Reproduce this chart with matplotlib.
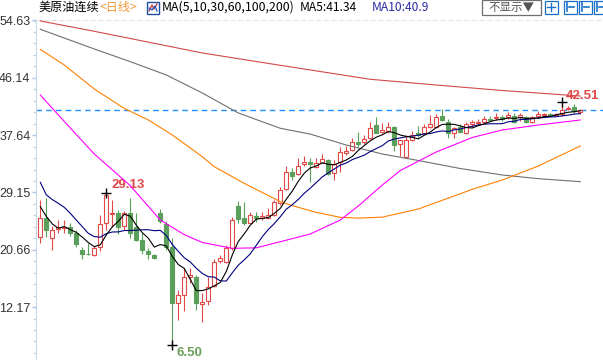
import numpy as np
import pandas as pd
import matplotlib
matplotlib.use('Agg')
import matplotlib.pyplot as plt
from matplotlib.patches import Rectangle
from matplotlib.ticker import AutoMinorLocator

# ---------------- data ----------------
opens = [22.6, 25.3, 22.4, 23.7, 23.9, 24.0, 23.1, 20.6, 20.1, 19.9,
         21.0, 24.7, 26.0, 26.15, 24.2, 26.15, 24.1, 22.1, 20.5, 19.9,
         26.06, 24.48, 21.12, 12.82, 13.96, 16.58, 16.67, 12.7, 13.12, 15.3,
         19.0, 18.9, 20.97, 27.15, 25.3, 24.7, 25.7, 25.4, 25.4, 25.8,
         27.55, 29.67, 32.14, 31.84, 33.37, 33.7, 32.97, 33.56, 33.96, 32.0,
         33.7, 35.0, 35.45, 36.67, 36.67, 37.2, 39.15, 38.15, 38.3, 38.9,
         36.33, 34.45, 36.93, 37.9, 37.9, 38.9, 38.9, 40.5, 39.64, 37.9,
         38.9, 37.9, 39.25, 39.4, 39.64, 40.03, 40.13, 40.3, 40.4, 40.55,
         40.3, 40.3, 39.6, 40.43, 40.6, 40.77, 40.6, 40.77, 41.5, 41.75,
         41.1]
closes = [25.3, 23.6, 23.6, 24.0, 24.0, 23.1, 21.5, 20.1, 20.0, 20.9,
          24.5, 28.8, 26.1, 24.1, 26.1, 23.1, 22.1, 20.6, 20.0, 19.5,
          24.97, 21.12, 12.82, 13.96, 16.58, 16.93, 12.73, 12.9, 15.2, 18.9,
          19.4, 20.9, 25.07, 25.2, 24.6, 25.8, 25.3, 25.7, 25.8, 27.7,
          29.5, 32.14, 31.64, 33.1, 33.7, 33.37, 33.56, 34.06, 31.9, 33.37,
          35.2, 35.3, 36.67, 36.4, 37.03, 38.66, 38.0, 38.4, 38.8, 36.2,
          36.9, 37.0, 37.67, 37.7, 38.9, 39.25, 40.4, 39.9, 37.9, 38.75,
          38.07, 39.25, 39.55, 39.64, 40.03, 39.83, 40.38, 40.1, 40.63, 39.6,
          40.6, 39.6, 40.3, 40.77, 40.77, 40.67, 40.77, 41.3, 41.7, 41.15,
          41.34]
highs = [28.1, 28.4, 24.2, 25.1, 25.1, 24.7, 23.6, 21.1, 21.6, 21.2,
         25.8, 29.13, 28.1, 26.6, 26.4, 28.3, 26.1, 23.1, 20.9, 20.05,
         26.66, 24.97, 22.36, 14.7, 17.92, 17.92, 16.93, 14.2, 16.67, 19.25,
         19.9, 21.4, 25.57, 27.9, 27.7, 26.2, 26.3, 26.2, 26.8, 28.0,
         30.0, 33.1, 32.8, 34.3, 34.6, 34.2, 34.2, 34.8, 34.06, 33.96,
         35.9, 36.0, 37.2, 38.15, 37.67, 39.64, 40.4, 39.4, 39.6, 39.0,
         37.0, 37.67, 38.3, 39.0, 39.25, 40.63, 40.73, 41.5, 40.03, 38.9,
         39.25, 39.64, 39.9, 40.03, 40.53, 40.53, 40.88, 40.7, 41.1, 40.9,
         40.9, 40.43, 40.43, 41.17, 41.0, 41.0, 41.0, 42.51, 41.9, 42.2,
         41.5]
lows = [21.7, 22.5, 20.7, 23.1, 23.2, 22.7, 21.1, 19.25, 19.9, 19.7,
        20.5, 23.6, 24.0, 23.0, 23.6, 22.4, 22.0, 20.0, 19.25, 19.25,
        24.6, 20.7, 6.50, 10.26, 11.64, 15.7, 11.74, 10.0, 12.48, 15.2,
        18.66, 18.75, 20.63, 24.6, 24.4, 24.7, 24.8, 25.0, 25.2, 25.7,
        27.3, 29.5, 31.0, 31.7, 33.1, 30.75, 32.8, 33.47, 31.74, 31.0,
        32.2, 34.7, 35.35, 35.9, 36.4, 37.03, 37.9, 37.9, 37.9, 35.35,
        34.6, 34.36, 36.8, 37.4, 37.77, 38.66, 38.75, 39.7, 37.17, 37.17,
        37.9, 37.77, 38.9, 39.15, 39.4, 39.7, 39.9, 39.8, 40.0, 39.45,
        39.7, 39.45, 39.45, 40.2, 40.3, 40.43, 40.5, 40.53, 41.3, 40.98,
        40.8]

# start of MA5 / MA10 (history before the window)
ma5_head = [27.05, 25.6, 24.5, 23.85]
ma10_head = [30.66, 28.8, 28.1, 27.55, 26.95, 26.06, 25.07, 24.08, 23.1]

# long moving averages read at sample candles
ma30_idx = [0, 5, 9, 15, 20, 24, 27, 32, 36, 40, 45, 50, 53, 57, 60, 66, 72, 77, 83, 90]
ma30_val = [43.59, 38.7, 34.85, 30.16, 25.07, 22.9, 21.74, 20.88, 20.95, 21.86, 23.0,
            25.07, 27.15, 30.26, 32.41, 35.15, 37.3, 38.41, 39.15, 39.89]
ma60_idx = [0, 4, 9, 14, 18, 22, 27, 29, 34, 40, 42, 46, 50, 53, 57, 63, 72, 77, 83, 90]
ma60_val = [50.36, 48.04, 44.48, 41.6, 39.9, 37.67, 34.45, 32.97, 30.5, 27.79, 27.2,
            26.2, 25.47, 25.35, 25.5, 26.7, 29.62, 31.0, 33.07, 36.04]
ma100_idx = [0, 9, 15, 21, 27, 33, 40, 45, 51, 57, 63, 70, 77, 83, 90]
ma100_val = [53.33, 50.41, 48.53, 46.56, 43.89, 40.93, 38.66, 37.8, 36.18, 34.85,
             33.89, 32.7, 31.74, 31.2, 30.75]
ma200_idx = [0, 9, 27, 40, 55, 66, 77, 90]
ma200_val = [54.56, 53.03, 49.82, 47.99, 45.92, 45.07, 44.26, 43.44]

y_ticks = [54.63, 46.14, 37.64, 29.15, 20.66, 12.17]
last_price = 41.33
high_mark = (11, 29.13)
low_mark = (22, 6.50)
recent_high = (87, 42.51)

# ---------------- figure ----------------
W, H = 603, 360
RED = '#e34848'
GREEN = '#5aa05a'
CJK = ['Noto Sans CJK SC', 'DejaVu Sans']

fig = plt.figure(figsize=(W / 100, H / 100), dpi=100)
ax = fig.add_axes([36 / W, 0, 1 - 36 / W, 1 - 20 / H])
ax.set_xlim(-0.717, 93.78)
ax.set_ylim(4.333, 54.704)

n = len(opens)
s_close = pd.Series(closes)
ma5 = s_close.rolling(5).mean().to_numpy()
ma10 = s_close.rolling(10).mean().to_numpy()
ma5[:len(ma5_head)] = ma5_head
ma10[:len(ma10_head)] = ma10_head

bw = 0.72
for i in range(n):
    o, c, h, l = opens[i], closes[i], highs[i], lows[i]
    up = c >= o
    col = RED if up else GREEN
    ax.vlines(i, l, h, color=col, lw=0.8, zorder=2)
    bot = min(o, c)
    ht = max(abs(c - o), 0.08)
    ax.add_patch(Rectangle((i - bw / 2, bot), bw, ht,
                           facecolor='white' if up else col,
                           edgecolor=col, lw=0.8, zorder=3))

x = np.arange(n)
LW = 0.8
ax.plot(ma200_idx, ma200_val, color='#d24a4a', lw=LW, zorder=4)
ax.plot(ma100_idx, ma100_val, color='#707070', lw=LW, zorder=4)
ax.plot(ma60_idx, ma60_val, color='#ff8000', lw=LW, zorder=4)
ax.plot(ma30_idx, ma30_val, color='#ff00ff', lw=LW, zorder=4)
ax.plot(x, ma10, color='#000080', lw=LW, zorder=5)
ax.plot(x, ma5, color='black', lw=LW, zorder=5)

ax.axhline(last_price, color='#1e8fff', lw=1.0, ls=(0, (4, 3)), zorder=1)

for (mi, mv) in (high_mark, low_mark, recent_high):
    ax.plot(mi, mv, marker='+', ms=7, mew=1.0, color='black', zorder=6)

ax.text(high_mark[0] + 0.9, 30.26, f'{high_mark[1]:.2f}', color=RED,
        fontsize=9.5, fontweight='bold', family='Liberation Sans', va='center', ha='left')
ax.text(low_mark[0] + 0.75, 5.37, f'{low_mark[1]:.2f}', color='#6a9e5a',
        fontsize=9.5, fontweight='bold', family='Liberation Sans', va='center', ha='left')
ax.text(recent_high[0] + 0.6, 43.45, f'{recent_high[1]:.2f}', color=RED,
        fontsize=9.5, fontweight='bold', family='Liberation Sans', va='center', ha='left')

# axes styling
ax.set_yticks(y_ticks)
ax.set_yticklabels([f'{v:.2f}' for v in y_ticks])
ax.yaxis.set_minor_locator(AutoMinorLocator(5))
ax.tick_params(axis='y', which='major', length=3, width=1, color='#a8c4e0',
               pad=1, labelsize=9, labelcolor='#333333')
ax.tick_params(axis='y', which='minor', length=2, width=1, color='#c0d4ea')
for lab in ax.get_yticklabels():
    lab.set_family('Liberation Sans')
ax.set_xticks([])
ax.spines['right'].set_visible(False)
ax.spines['bottom'].set_visible(False)
ax.spines['left'].set_color('#c8d6e6')
ax.spines['top'].set_color('#e4e4e4')
ax.spines['top'].set_linestyle((0, (4, 3)))

# ---------------- header ----------------
def fx(px):
    return px / W

def fy(py):
    return 1 - py / H

hy = fy(7.5)
fig.text(fx(38), hy, '美原油连续', family=CJK, fontsize=8.7, color='black', va='center')
fig.text(fx(99), hy, '<日线>', family=CJK, fontsize=8.7, color='#f39a3a', va='center')
# small chart icon
fig.add_artist(Rectangle((fx(147), fy(14)), 12 / W, 12 / H, transform=fig.transFigure,
                         facecolor='white', edgecolor='#2050a0', lw=1))
fig.add_artist(plt.Line2D([fx(149), fx(152), fx(154), fx(157)],
                          [fy(11), fy(5), fy(9), fy(4)], transform=fig.transFigure,
                          color='#d03030', lw=0.9))
fig.add_artist(plt.Line2D([fx(149), fx(152), fx(155), fx(157)],
                          [fy(8), fy(10), fy(6), fy(11)], transform=fig.transFigure,
                          color='#2050c0', lw=0.9))
fig.text(fx(162), hy, 'MA(5,10,30,60,100,200)', family=CJK, fontsize=8.9,
         color='black', va='center')
fig.text(fx(300), hy, 'MA5:41.34', family=CJK, fontsize=8.7, color='black', va='center')
fig.text(fx(372), hy, 'MA10:40.9', family=CJK, fontsize=8.7, color='#2a2aa0', va='center')

# "不显示" drop-down
fig.add_artist(Rectangle((fx(481.5), fy(14.5)), 59 / W, 14.5 / H, transform=fig.transFigure,
                         facecolor='white', edgecolor='#707070', lw=0.9))
fig.text(fx(511), fy(7.5), '不显示▼', family=CJK, fontsize=8.3, color='#555555',
         va='center', ha='center')

# tool icons
for x0 in (545, 564, 579, 594):
    fig.add_artist(Rectangle((fx(x0), fy(13.5)), 12.5 / W, 12.5 / H, transform=fig.transFigure,
                             facecolor='white', edgecolor='#1a6fc8', lw=0.9))
cx, cy = 551.2, 7.2
fig.add_artist(plt.Line2D([fx(cx - 4), fx(cx + 4)], [fy(cy), fy(cy)],
                          transform=fig.transFigure, color='#1a6fc8', lw=1))
fig.add_artist(plt.Line2D([fx(cx), fx(cx)], [fy(cy - 4), fy(cy + 4)],
                          transform=fig.transFigure, color='#1a6fc8', lw=1))
for x0 in (564, 579, 594):
    fig.add_artist(plt.Line2D([fx(x0 + 3), fx(x0 + 3)], [fy(3), fy(11)],
                              transform=fig.transFigure, color='#1a6fc8', lw=1.2))
    fig.add_artist(plt.Line2D([fx(x0 + 5), fx(x0 + 10)], [fy(7), fy(7)],
                              transform=fig.transFigure, color='#1a6fc8', lw=1.2))

fig.savefig('out.png', dpi=100)
